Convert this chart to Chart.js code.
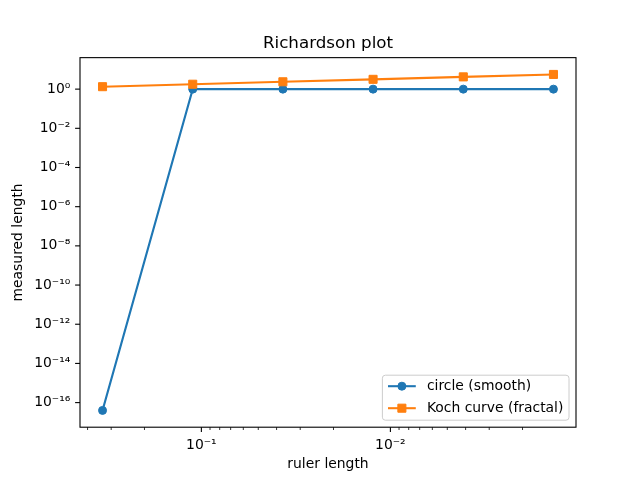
<!DOCTYPE html>
<html>
<head>
<meta charset="utf-8">
<title>Richardson plot</title>
<script src="https://cdn.jsdelivr.net/npm/chart.js@4.4.1/dist/chart.umd.min.js"></script>
<style>
    html, body { margin: 0; padding: 0; background: #fff; }
    #wrap { width: 640px; height: 480px; }
</style>
</head>
<body>
<div id="wrap"><canvas id="richardson-chart" width="640" height="480"></canvas></div>
<script>
// start: Data
const rulerLengths = [0.3333, 0.1111, 0.03704, 0.01235, 0.004115, 0.001372];
const circleLengths = [4e-17, 1, 1, 1, 1, 1];
const kochLengths = [1.333, 1.778, 2.370, 3.160, 4.214, 5.619];

const xMajorTicks = [0.1, 0.01];
const xMinorTicks = [0.4, 0.3, 0.2,
    0.09, 0.08, 0.07, 0.06, 0.05, 0.04, 0.03, 0.02,
    0.009, 0.008, 0.007, 0.006, 0.005, 0.004, 0.003, 0.002];
const yMajorTicks = [1, 1e-2, 1e-4, 1e-6, 1e-8, 1e-10, 1e-12, 1e-14, 1e-16];

const seriesNames = ['circle (smooth)', 'Koch curve (fractal)'];
// end: Data

const FONT = 'DejaVu Sans';
const blue = '#1f77b4';
const orange = '#ff7f0e';
const sup = { '-': '⁻', '0': '⁰', '1': '¹', '2': '²', '3': '³', '4': '⁴', '5': '⁵', '6': '⁶', '7': '⁷', '8': '⁸', '9': '⁹' };

function powerLabel(value) {
    const exp = String(Math.round(Math.log10(value)));
    return '10' + exp.split('').map(c => sup[c]).join('');
}

function isMajor(list, value) {
    return list.some(v => Math.abs(Math.log10(v) - Math.log10(value)) < 1e-6);
}

// same 5% log margins matplotlib adds around the data
function logLimits(values) {
    const lo = Math.log10(Math.min(...values));
    const hi = Math.log10(Math.max(...values));
    const pad = (hi - lo) * 0.05;
    return [Math.pow(10, lo - pad), Math.pow(10, hi + pad)];
}

const xLim = logLimits(rulerLengths);
const yLim = logLimits(circleLengths.concat(kochLengths));

function toPoints(ys) {
    return rulerLengths.map((x, i) => ({ x: x, y: ys[i] }));
}

const markers = [
    { color: blue, pointStyle: 'circle', radius: 4.0 },
    { color: orange, pointStyle: 'rect', radius: 5.7 }
];

// start: Frame, tick marks and legend
const axesDecor = {
    id: 'axesDecor',
    afterDraw(chart) {
        const ctx = chart.ctx;
        const area = chart.chartArea;
        const xs = chart.scales.x;
        const ys = chart.scales.y;
        ctx.save();
        ctx.strokeStyle = '#000';

        xs.ticks.forEach(t => {
            const px = xs.getPixelForValue(t.value);
            const len = t.major ? 4.9 : 2.8;
            ctx.lineWidth = t.major ? 1.1 : 0.8;
            ctx.beginPath();
            ctx.moveTo(px, area.bottom);
            ctx.lineTo(px, area.bottom + len);
            ctx.stroke();
        });
        ys.ticks.forEach(t => {
            const py = ys.getPixelForValue(t.value);
            ctx.lineWidth = 1.1;
            ctx.beginPath();
            ctx.moveTo(area.left, py);
            ctx.lineTo(area.left - 4.9, py);
            ctx.stroke();
        });

        ctx.lineWidth = 1.1;
        ctx.strokeRect(area.left, area.top, area.right - area.left, area.bottom - area.top);

        // legend, lower right
        ctx.font = '13.9px "' + FONT + '"';
        const textW = Math.max(...seriesNames.map(n => ctx.measureText(n).width));
        const w = 5.6 + 27.8 + 11.1 + textW + 5.6;
        const h = 45;
        const left = area.right - 7 - w;
        const top = area.bottom - 7 - h;
        ctx.fillStyle = 'rgba(255,255,255,0.8)';
        ctx.strokeStyle = '#cccccc';
        ctx.lineWidth = 1;
        ctx.beginPath();
        ctx.roundRect(left, top, w, h, 3);
        ctx.fill();
        ctx.stroke();

        seriesNames.forEach((name, i) => {
            const cy = top + 11 + i * 22;
            const x0 = left + 5.6;
            const x1 = x0 + 27.8;
            ctx.strokeStyle = markers[i].color;
            ctx.lineWidth = 2.08;
            ctx.beginPath();
            ctx.moveTo(x0, cy);
            ctx.lineTo(x1, cy);
            ctx.stroke();
            ctx.fillStyle = markers[i].color;
            ctx.lineWidth = 1;
            Chart.helpers.drawPoint(ctx, {
                pointStyle: markers[i].pointStyle,
                radius: markers[i].radius,
                rotation: 0,
                borderWidth: 1
            }, (x0 + x1) / 2, cy);
            ctx.fillStyle = '#000';
            ctx.textAlign = 'left';
            ctx.textBaseline = 'middle';
            ctx.fillText(name, x1 + 11.1, cy);
        });
        ctx.restore();
    }
};
// end: Frame, tick marks and legend

function lineDataset(i, values, order) {
    return {
        label: seriesNames[i],
        data: toPoints(values),
        borderColor: markers[i].color,
        backgroundColor: markers[i].color,
        borderWidth: 2.08,
        pointStyle: markers[i].pointStyle,
        pointRadius: markers[i].radius,
        pointBorderWidth: 1,
        pointBackgroundColor: markers[i].color,
        pointBorderColor: markers[i].color,
        tension: 0,
        fill: false,
        order: order
    };
}

// start: Chart
new Chart(document.getElementById('richardson-chart'), {
    type: 'line',
    data: {
        datasets: [
            lineDataset(0, circleLengths, 1),
            lineDataset(1, kochLengths, 0)
        ]
    },
    options: {
        responsive: false,
        animation: false,
        layout: { padding: { left: 0, right: 64, top: 0, bottom: 0 } },
        plugins: {
            legend: { display: false },
            tooltip: { enabled: false },
            title: {
                display: true,
                fullSize: false,
                text: 'Richardson plot',
                color: '#000',
                font: { family: FONT, size: 16.7, weight: 'normal', lineHeight: 1.2 },
                padding: { top: 33.5, bottom: 4.1 }
            }
        },
        scales: {
            x: {
                type: 'logarithmic',
                reverse: true,
                bounds: 'data',
                min: xLim[0],
                max: xLim[1],
                afterBuildTicks: (scale) => {
                    scale.ticks = xMajorTicks.concat(xMinorTicks)
                        .filter(v => v >= xLim[0] && v <= xLim[1])
                        .map(v => ({ value: v, major: isMajor(xMajorTicks, v) }));
                },
                afterFit: (scale) => { scale.height = 52.8; },
                grid: { display: false, drawTicks: false },
                border: { display: false },
                ticks: {
                    autoSkip: false,
                    maxRotation: 0,
                    minRotation: 0,
                    padding: 9.7,
                    color: '#000',
                    font: { family: FONT, size: 13.9 },
                    callback: (value) => isMajor(xMajorTicks, value) ? powerLabel(value) : ''
                },
                title: {
                    display: true,
                    text: 'ruler length',
                    color: '#000',
                    font: { family: FONT, size: 13.9 },
                    padding: { top: 7, bottom: 7 }
                }
            },
            y: {
                type: 'logarithmic',
                bounds: 'data',
                min: yLim[0],
                max: yLim[1],
                afterBuildTicks: (scale) => {
                    scale.ticks = yMajorTicks.map(v => ({ value: v, major: true }));
                },
                afterFit: (scale) => { scale.width = 80; },
                grid: { display: false, drawTicks: false },
                border: { display: false },
                ticks: {
                    autoSkip: false,
                    padding: 9.7,
                    color: '#000',
                    font: { family: FONT, size: 13.9 },
                    callback: (value) => powerLabel(value)
                },
                title: {
                    display: true,
                    text: 'measured length',
                    color: '#000',
                    font: { family: FONT, size: 13.9 },
                    padding: { top: 10, bottom: 10 }
                }
            }
        }
    },
    plugins: [axesDecor]
});
// end: Chart
</script>
</body>
</html>
